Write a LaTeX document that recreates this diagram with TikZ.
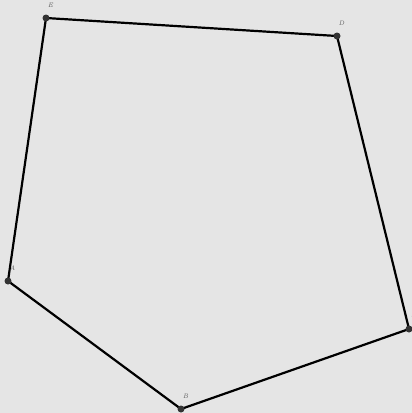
\documentclass[tikz,border=0pt]{standalone}
\usepackage{tikz}
\usepackage{xcolor}
\usetikzlibrary{positioning}
\definecolor{PageBg}{HTML}{E5E5E5}
\definecolor{EdgeInk}{HTML}{000000}
\definecolor{DotInk}{HTML}{333333}
\definecolor{LabelInk}{HTML}{555555}

\begin{document}
\begin{tikzpicture}[
    x=1pt, y=-1pt,
    edge/.style={
      draw=EdgeInk,
      line width=2.2pt,
      line join=round,
    },
    vertex/.style={
      circle,
      fill=DotInk,
      inner sep=0pt,
      minimum size=7pt,
    },
    vlabel/.style={
      text=LabelInk,
      inner sep=0pt,
      font=\fontsize{6.5}{7}\selectfont\itshape,
    },
  ]
    \fill[PageBg] (0,0) rectangle (412,413);
    \useasboundingbox (0,0) rectangle (412,413);
    % vertices
    \coordinate (A) at (8,281);
    \coordinate (B) at (181,409);
    \coordinate (C) at (409,329);
    \coordinate (D) at (337,36);
    \coordinate (E) at (46,18);
    % pentagon
    \draw[edge] (A) -- (B) -- (C) -- (D) -- (E) -- cycle;
    \foreach \p in {A,B,C,D,E} {
      \node[vertex] (dot\p) at (\p) {};
      \node[vlabel] (lab\p) at ([xshift=4.5pt,yshift=12.5pt]\p) {\p};
    }
  \end{tikzpicture}
\end{document}
